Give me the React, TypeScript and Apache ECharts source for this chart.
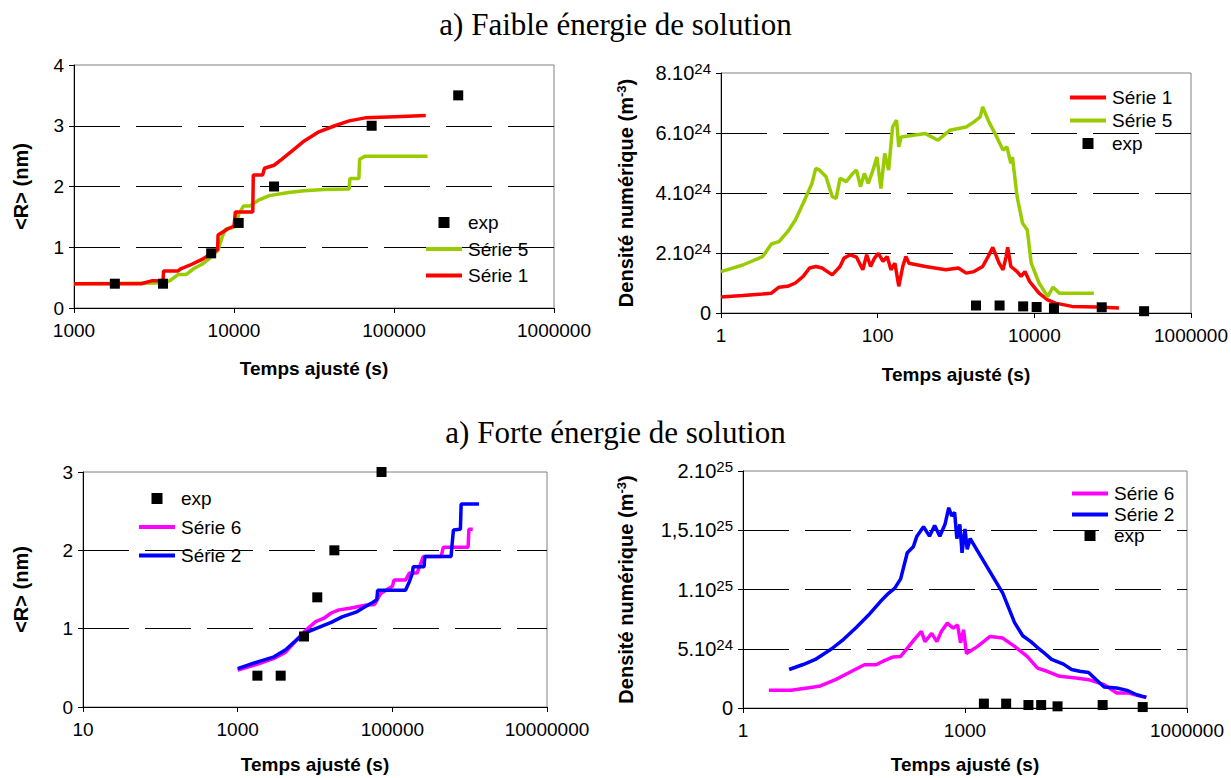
import React, { useEffect, useRef } from 'react';
import * as echarts from 'echarts';

// ---------- shared experimental times (s) ----------
const expTimes = [1800, 3600, 7200, 10700, 17800, 72500, 252000];

// ---------- Panel 1 : <R> (nm), faible énergie ----------
const p1XTicks = [1000, 10000, 100000, 1000000];
const p1ExpR = [0.4, 0.4, 0.9, 1.4, 2.0, 3.0, 3.5];
const p1Serie1: [number, number][] = [
  [1000, 0.4], [2630, 0.4], [3090, 0.45], [3600, 0.45], [3630, 0.61], [4470, 0.61], [4680, 0.65],
  [5250, 0.7], [6310, 0.8], [6760, 0.85], [7900, 0.96], [7950, 1.2], [9120, 1.3], [10000, 1.35],
  [10200, 1.58], [13100, 1.58], [13200, 2.19], [15100, 2.19], [15500, 2.3], [17800, 2.35],
  [19950, 2.45], [23400, 2.6], [27500, 2.75], [33900, 2.9], [42700, 3.0], [52500, 3.08],
  [66000, 3.13], [102000, 3.15], [158000, 3.17],
];
const p1Serie5: [number, number][] = [
  [1000, 0.4], [3630, 0.41], [3980, 0.45], [4470, 0.55], [5010, 0.55], [5620, 0.65], [6310, 0.72],
  [6920, 0.8], [7940, 0.95], [8510, 1.2], [8910, 1.3], [10000, 1.33], [10470, 1.45], [10720, 1.55],
  [11480, 1.68], [12590, 1.68], [14130, 1.77], [16600, 1.85], [21900, 1.9], [27500, 1.93],
  [36300, 1.95], [52500, 1.96], [53000, 2.13], [60300, 2.13], [61000, 2.45], [66000, 2.5], [162000, 2.5],
];

// ---------- Panel 2 : densité (1e24 m-3), faible énergie ----------
const p2XTicks = [1, 100, 10000, 1000000];
const p2YLabels = ['0', '2.10^24', '4.10^24', '6.10^24', '8.10^24'];
const p2ExpN = [0.25, 0.25, 0.22, 0.2, 0.16, 0.19, 0.06];
const p2Serie1: [number, number][] = [
  [1, 0.53], [1.9, 0.58], [3.4, 0.63], [4.4, 0.66], [5.5, 0.86], [7.1, 0.89], [8.9, 1.0], [11.2, 1.22],
  [13.5, 1.5], [16.2, 1.55], [19.5, 1.5], [26.3, 1.27], [33.1, 1.55], [37.2, 1.83], [44.7, 1.94],
  [53.7, 1.86], [64.6, 1.44], [72.4, 1.94], [81.3, 1.55], [91.2, 1.83], [102, 1.99], [117, 1.72],
  [132, 1.88], [148, 1.44], [166, 1.66], [186, 0.89], [209, 1.55], [229, 1.88], [251, 1.66],
  [407, 1.55], [741, 1.44], [1072, 1.5], [1349, 1.33], [1698, 1.38], [2188, 1.55], [2570, 1.88],
  [2951, 2.19], [3548, 1.66], [3981, 1.44], [4365, 1.88], [4571, 2.19], [5012, 1.55], [6026, 1.38],
  [6761, 1.22], [7586, 1.38], [8710, 1.05], [9772, 0.89], [11480, 0.66], [14790, 0.44], [18620, 0.33],
  [30200, 0.22], [61660, 0.2], [120200, 0.17],
];
const p2Serie5: [number, number][] = [
  [1, 1.38], [1.9, 1.6], [3.4, 1.88], [4.4, 2.3], [5.5, 2.38], [7.1, 2.71], [8.9, 3.1], [11.2, 3.66],
  [14.5, 4.32], [16.2, 4.82], [18.2, 4.76], [21.9, 4.54], [26.3, 3.88], [29.5, 3.82], [33.1, 4.49],
  [39.8, 4.38], [47.9, 4.65], [53.7, 4.76], [60.3, 4.21], [67.6, 4.65], [75.9, 4.32], [87.1, 4.76],
  [97.7, 5.2], [110, 4.15], [123, 5.32], [138, 4.76], [155, 6.2], [174, 6.43], [186, 5.54], [200, 5.87],
  [407, 5.98], [589, 5.76], [832, 6.09], [1349, 6.2], [1698, 6.37], [2042, 6.54], [2188, 6.87],
  [2630, 6.37], [3311, 5.87], [3981, 5.43], [4467, 5.54], [5012, 4.99], [5248, 5.2], [6026, 3.88],
  [7079, 2.99], [8128, 2.77], [9120, 1.66], [11480, 1.0], [14790, 0.55], [17380, 0.86], [20890, 0.66],
  [57540, 0.66],
];

// ---------- Panel 3 : <R> (nm), forte énergie ----------
const p3XTicks = [10, 1000, 100000, 10000000];
const p3ExpR = [0.4, 0.4, 0.9, 1.4, 2.0, 3.0];
const p3Serie6: [number, number][] = [
  [1000, 0.47], [1860, 0.55], [2950, 0.62], [4170, 0.7], [5250, 0.81], [7240, 0.96], [10200, 1.09],
  [12900, 1.13], [16200, 1.2], [20400, 1.24], [28200, 1.26], [35500, 1.28], [44700, 1.3], [58900, 1.31],
  [70800, 1.45], [100000, 1.54], [105000, 1.62], [148000, 1.62], [166000, 1.71], [209000, 1.71],
  [251000, 1.92], [427000, 1.92], [457000, 2.04], [955000, 2.04], [977000, 2.27], [1096000, 2.27],
];
const p3Serie2: [number, number][] = [
  [1000, 0.49], [1860, 0.58], [2950, 0.64], [4170, 0.73], [5250, 0.82], [7240, 0.94], [10200, 1.0],
  [16200, 1.08], [22400, 1.15], [33900, 1.21], [42700, 1.27], [52500, 1.32], [63000, 1.37],
  [64500, 1.49], [148000, 1.49], [166000, 1.6], [182000, 1.71], [186000, 1.79], [257000, 1.79],
  [263000, 1.92], [575000, 1.92], [589000, 2.05], [617000, 2.26], [759000, 2.27], [776000, 2.59],
  [1320000, 2.59],
];

// ---------- Panel 4 : densité (1e24 m-3), forte énergie ----------
const p4XTicks = [1, 1000, 1000000];
const p4YLabels = ['0', '5.10^24', '1.10^25', '1,5.10^25', '2.10^25'];
const p4ExpN = [0.37, 0.37, 0.25, 0.25, 0.14, 0.25, 0.08];
const p4Serie6: [number, number][] = [
  [2.24, 1.49], [4.47, 1.49], [7.4, 1.69], [10.7, 1.83], [17.8, 2.39], [29.5, 3.1], [43.7, 3.65],
  [63.1, 3.65], [81.3, 4.0], [105, 4.3], [135, 4.35], [174, 5.2], [214, 5.9], [257, 6.46], [288, 5.6],
  [355, 6.3], [417, 5.6], [479, 6.46], [575, 7.16], [692, 6.74], [794, 7.0], [871, 5.5], [955, 6.6],
  [1047, 4.6], [1479, 5.2], [2188, 6.04], [3236, 5.9], [4677, 5.2], [6918, 4.35], [9550, 3.37],
  [12880, 3.1], [19050, 2.67], [31620, 2.53], [46770, 2.39], [75860, 1.97], [112200, 1.26],
  [162200, 1.26], [239900, 0.98], [281800, 0.93],
];
const p4Serie2: [number, number][] = [
  [4.2, 3.25], [6.5, 3.67], [9.5, 4.1], [15.8, 5.0], [22.9, 5.8], [33.9, 6.8], [49, 7.8], [72.4, 9.0],
  [93.3, 9.7], [112, 10.1], [135, 10.9], [166, 13.1], [200, 13.6], [224, 14.5], [275, 15.3], [331, 14.5],
  [389, 15.4], [457, 14.5], [537, 15.5], [603, 16.9], [661, 16.2], [724, 16.5], [776, 14.3], [851, 15.5],
  [912, 13.1], [1000, 15.1], [1072, 13.4], [1175, 14.3], [1950, 12.0], [3236, 9.7], [4677, 7.2],
  [6026, 6.1], [7762, 5.6], [9550, 5.1], [11480, 4.7], [14790, 4.1], [21380, 3.7], [27540, 3.25],
  [35480, 3.1], [46770, 3.0], [58880, 2.4], [75860, 1.77], [112200, 1.69], [154900, 1.49],
  [208900, 1.12], [281800, 0.9],
];

const SANS = "'Liberation Sans', Arial, sans-serif";
const SERIF = "'Liberation Serif', 'Times New Roman', serif";
const RED = '#ff0000';
const GREEN = '#99cc00';
const MAGENTA = '#ff00ff';
const BLUE = '#0000ff';

const supRich = {
  m: { fontSize: 20, fontFamily: SANS, color: '#000', lineHeight: 24 },
  e: { fontSize: 15, fontFamily: SANS, color: '#000', lineHeight: 14, verticalAlign: 'top' },
};

function supLabel(labels: string[], step: number) {
  return (v: number) => {
    const s = labels[Math.round(v / step)] ?? '';
    const [m, e] = s.split('^');
    return e ? `{m|${m}}{e|${e}}` : `{m|${m}}`;
  };
}

function xAxis(grid: number, min: number, max: number, ticks: number[], gap: number) {
  return {
    type: 'log', logBase: 10, gridIndex: grid, min, max,
    axisLine: { show: true, onZero: false, lineStyle: { color: '#000', width: 1 } },
    axisTick: { show: true, inside: false, length: 5, customValues: ticks, lineStyle: { color: '#000' } },
    axisLabel: {
      customValues: ticks, fontSize: 19, fontFamily: SANS, color: '#000', margin: 13,
      formatter: (v: number) => String(Math.round(v)),
    },
    splitLine: { show: false }, minorTick: { show: false }, minorSplitLine: { show: false },
    name: 'Temps ajusté (s)', nameLocation: 'middle', nameGap: gap,
    nameTextStyle: { fontSize: 19, fontWeight: 'bold', fontFamily: SANS, color: '#000' },
  };
}

function yAxis(grid: number, max: number, interval: number, name: string, gap: number, labelCfg: any) {
  return {
    type: 'value', gridIndex: grid, min: 0, max, interval,
    axisLine: { show: true, onZero: false, lineStyle: { color: '#000', width: 1 } },
    axisTick: { show: true, inside: false, length: 5, lineStyle: { color: '#000' } },
    axisLabel: { fontSize: 19, fontFamily: SANS, color: '#000', margin: 10, ...labelCfg },
    splitLine: {
      show: true, showMinLine: false, showMaxLine: false,
      lineStyle: { color: '#000', width: 1, type: [46, 16] },
    },
    name, nameLocation: 'middle', nameGap: gap, nameRotate: 90,
    nameTextStyle: {
      fontSize: 20, fontWeight: 'bold', fontFamily: SANS, color: '#000',
      rich: {
        b: { fontSize: 20, fontWeight: 'bold', fontFamily: SANS, color: '#000', lineHeight: 22 },
        s: { fontSize: 13, fontWeight: 'bold', fontFamily: SANS, color: '#000', lineHeight: 13, verticalAlign: 'top' },
      },
    },
  };
}

function line(name: string, data: [number, number][], idx: number, color: string, z: number) {
  return {
    type: 'line', name, data, xAxisIndex: idx, yAxisIndex: idx, symbol: 'none', showSymbol: false, z,
    lineStyle: { color, width: 3.5 }, itemStyle: { color },
  };
}

function scatter(ys: number[], idx: number) {
  return {
    type: 'scatter', name: 'exp', xAxisIndex: idx, yAxisIndex: idx, z: 10,
    data: ys.map((y, i) => [expTimes[i], y]),
    symbol: 'rect', symbolSize: 10, itemStyle: { color: '#000', opacity: 1 },
  };
}

const expIcon = 'path://M0,0L10,0L10,10L0,10Z';
const lineIcon = 'path://M0,0L36,0L36,4L0,4Z';

function legend(items: string[], left: number, top: number, gap: number) {
  return {
    data: items.map((n) => ({ name: n, icon: n === 'exp' ? expIcon : lineIcon })),
    orient: 'vertical', left, top, itemWidth: 36, itemHeight: 11, itemGap: gap, padding: 0,
    selectedMode: false, symbolKeepAspect: true,
    itemStyle: { opacity: 1 },
    textStyle: { fontSize: 19, fontFamily: SANS, color: '#000', lineHeight: 18, padding: [0, 0, 0, 1] },
  };
}

export default function App() {
  const ref = useRef<HTMLDivElement>(null);
  useEffect(() => {
    if (!ref.current) return;
    const chart = echarts.init(ref.current, undefined, { renderer: 'svg' });
    const gridBase = { show: true, borderColor: '#808080', borderWidth: 1, backgroundColor: 'transparent', containLabel: false };
    chart.setOption({
      animation: false,
      backgroundColor: '#fff',
      title: [
        { text: 'a) Faible énergie de solution', left: 'center', top: 9, padding: 0,
          textStyle: { fontFamily: SERIF, fontSize: 31, fontWeight: 'normal', color: '#000' } },
        { text: 'a) Forte énergie de solution', left: 'center', top: 417, padding: 0,
          textStyle: { fontFamily: SERIF, fontSize: 31, fontWeight: 'normal', color: '#000' } },
      ],
      grid: [
        { ...gridBase, left: 74, top: 65, width: 480, height: 243 },
        { ...gridBase, left: 721, top: 73, width: 470, height: 240 },
        { ...gridBase, left: 83, top: 472, width: 464, height: 235 },
        { ...gridBase, left: 743, top: 471, width: 444, height: 237 },
      ],
      xAxis: [
        xAxis(0, 1000, 1000000, p1XTicks, 51),
        xAxis(1, 1, 1000000, p2XTicks, 52),
        xAxis(2, 10, 10000000, p3XTicks, 48),
        xAxis(3, 1, 1000000, p4XTicks, 47),
      ],
      yAxis: [
        yAxis(0, 4, 1, '<R> (nm)', 43, {}),
        yAxis(1, 8, 2, '{b|Densité numérique (m}{s|-3}{b|)}', 84, { formatter: supLabel(p2YLabels, 2), rich: supRich }),
        yAxis(2, 3, 1, '<R> (nm)', 52, {}),
        yAxis(3, 20, 5, '{b|Densité numérique (m}{s|-3}{b|)}', 106, { formatter: supLabel(p4YLabels, 5), rich: supRich }),
      ],
      legend: [
        legend(['exp', 'Série 5', 'Série 1'], 426, 213, 7.5),
        legend(['Série 1', 'Série 5', 'exp'], 1070, 88, 4),
        legend(['exp', 'Série 6', 'Série 2'], 139, 489, 9.5),
        legend(['Série 6', 'Série 2', 'exp'], 1072, 484, 2),
      ],
      series: [
        line('Série 5', p1Serie5, 0, GREEN, 2),
        line('Série 1', p1Serie1, 0, RED, 3),
        scatter(p1ExpR, 0),
        line('Série 1', p2Serie1, 1, RED, 2),
        line('Série 5', p2Serie5, 1, GREEN, 3),
        scatter(p2ExpN, 1),
        line('Série 6', p3Serie6, 2, MAGENTA, 2),
        line('Série 2', p3Serie2, 2, BLUE, 3),
        scatter(p3ExpR, 2),
        line('Série 6', p4Serie6, 3, MAGENTA, 2),
        line('Série 2', p4Serie2, 3, BLUE, 3),
        scatter(p4ExpN, 3),
      ],
    });
    return () => chart.dispose();
  }, []);
  return <div ref={ref} style={{ position: 'absolute', left: 0, top: 0, width: 1231, height: 778 }} />;
}
